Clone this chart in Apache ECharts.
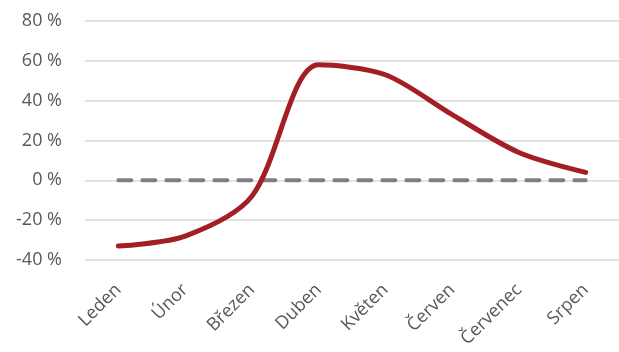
<!DOCTYPE html>
<html>
<head>
<meta charset="utf-8">
<script src="https://cdn.jsdelivr.net/npm/echarts@6/dist/echarts.min.js"></script>
<style>
  html, body { margin: 0; padding: 0; background: #fff; }
  #chart { width: 619px; height: 352px; }
</style>
</head>
<body>
<div id="chart"></div>
<script>
// mesice a hodnoty (v %)
var months = ['Leden', 'Únor', 'Březen', 'Duben', 'Květen', 'Červen', 'Červenec', 'Srpen'];
var values = [-33, -28, -8, 58, 53, 33, 14, 4];
var zeroLine = [0, 0, 0, 0, 0, 0, 0, 0];
var yTicks = { min: -40, max: 80, interval: 20 };

var chart = echarts.init(document.getElementById('chart'));
chart.setOption({
  animation: false,
  grid: { left: 85, top: 21, width: 540, height: 239, containLabel: false },
  xAxis: {
    type: 'category',
    data: months,
    boundaryGap: true,
    axisLine: { show: false },
    axisTick: { show: false },
    axisLabel: {
      rotate: 45,
      margin: 27,
      color: '#595959',
      fontSize: 18,
      fontFamily: 'Open Sans'
    }
  },
  yAxis: {
    type: 'value',
    min: yTicks.min,
    max: yTicks.max,
    interval: yTicks.interval,
    axisLine: { show: false },
    axisTick: { show: false },
    splitLine: { lineStyle: { color: '#d9d9d9', width: 1.5 } },
    axisLabel: {
      margin: 23,
      color: '#595959',
      fontSize: 18,
      fontFamily: 'Open Sans',
      formatter: function (v) { return v + ' %'; }
    }
  },
  series: [
    {
      type: 'line',
      data: zeroLine,
      symbol: 'none',
      lineStyle: { color: '#7f7f7f', width: 4, type: [13, 11], cap: 'round' }
    },
    {
      type: 'line',
      data: values,
      symbol: 'none',
      smooth: 0.3,
      lineStyle: { color: '#a31f24', width: 5, cap: 'round' }
    }
  ]
});
</script>
</body>
</html>
